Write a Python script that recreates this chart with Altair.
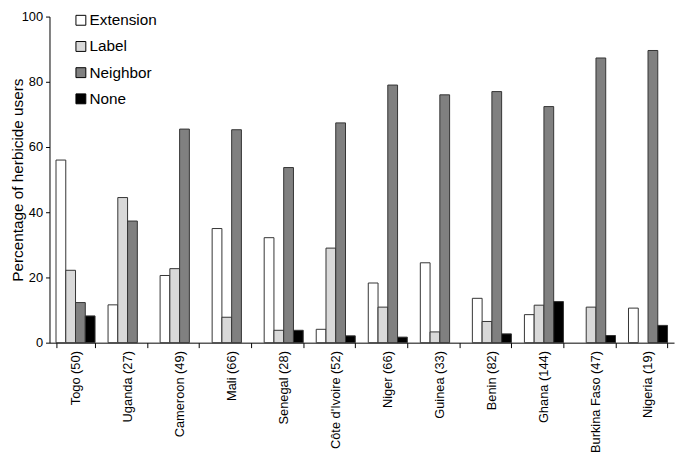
import altair as alt
import pandas as pd

countries = ["Togo (50)", "Uganda (27)", "Cameroon (49)", "Mali (66)", "Senegal (28)",
             "Côte d'Ivoire (52)", "Niger (66)", "Guinea (33)", "Benin (82)", "Ghana (144)",
             "Burkina Faso (47)", "Nigeria (19)"]
sources = ["Extension", "Label", "Neighbor", "None"]
extension = [56.0, 11.6, 20.6, 35.0, 32.2, 4.1, 18.3, 24.5, 13.6, 8.6, 0, 10.6]
label = [22.2, 44.5, 22.7, 7.8, 3.8, 29.0, 10.9, 3.3, 6.5, 11.5, 10.9, 0]
neighbor = [12.3, 37.3, 65.5, 65.3, 53.7, 67.4, 79.0, 76.0, 77.0, 72.4, 87.3, 89.6]
none = [8.2, 0, 0, 0, 3.8, 2.1, 1.7, 0, 2.7, 12.6, 2.2, 5.3]
colors = ["#ffffff", "#d9d9d9", "#808080", "#000000"]

rows = []
for i, c in enumerate(countries):
    for s, arr in zip(sources, [extension, label, neighbor, none]):
        rows.append({"country": c, "source": s, "value": arr[i]})
df = pd.DataFrame(rows)

FONT = "Liberation Sans"

chart = alt.Chart(df).transform_filter("datum.value > 0").mark_bar(
    stroke="#333333", strokeWidth=1
).encode(
    x=alt.X("country:N", sort=countries, title=None,
            scale=alt.Scale(paddingInner=0.25, paddingOuter=0.125),
            axis=alt.Axis(labelAngle=270, tickBand="extent", labelFontSize=13,
                          labelColor="black", domainColor="black", tickColor="black",
                          tickSize=5, labelPadding=3, labelFont=FONT)),
    xOffset=alt.XOffset("source:N", sort=sources, scale=alt.Scale(domain=sources)),
    y=alt.Y("value:Q", scale=alt.Scale(domain=[0, 100]),
            axis=alt.Axis(values=[0, 20, 40, 60, 80, 100], grid=False,
                          title="Percentage of  herbicide users",
                          titleFontSize=15.5, titleFontWeight="normal", titleFont=FONT,
                          titleColor="black", titleX=-24, labelFontSize=13, labelFont=FONT,
                          labelColor="black", domainColor="black", tickColor="black",
                          tickSize=4, labelPadding=3)),
    color=alt.Color("source:N", scale=alt.Scale(domain=sources, range=colors),
                    legend=alt.Legend(title=None, orient="none", legendX=24, legendY=-4,
                                      symbolType="square", symbolSize=100,
                                      symbolStrokeColor="black", symbolStrokeWidth=1,
                                      symbolOpacity=1, labelFontSize=15.5, labelFont=FONT,
                                      labelColor="black", rowPadding=9.5, padding=0,
                                      labelOffset=1)),
).properties(
    width=632, height=330,
    autosize=alt.AutoSizeParams(type="none"),
    padding={"left": 42, "top": 6, "right": 3, "bottom": 112},
).configure_view(stroke=None)

chart.save("out.html", embed_options={"renderer": "svg", "actions": False})
